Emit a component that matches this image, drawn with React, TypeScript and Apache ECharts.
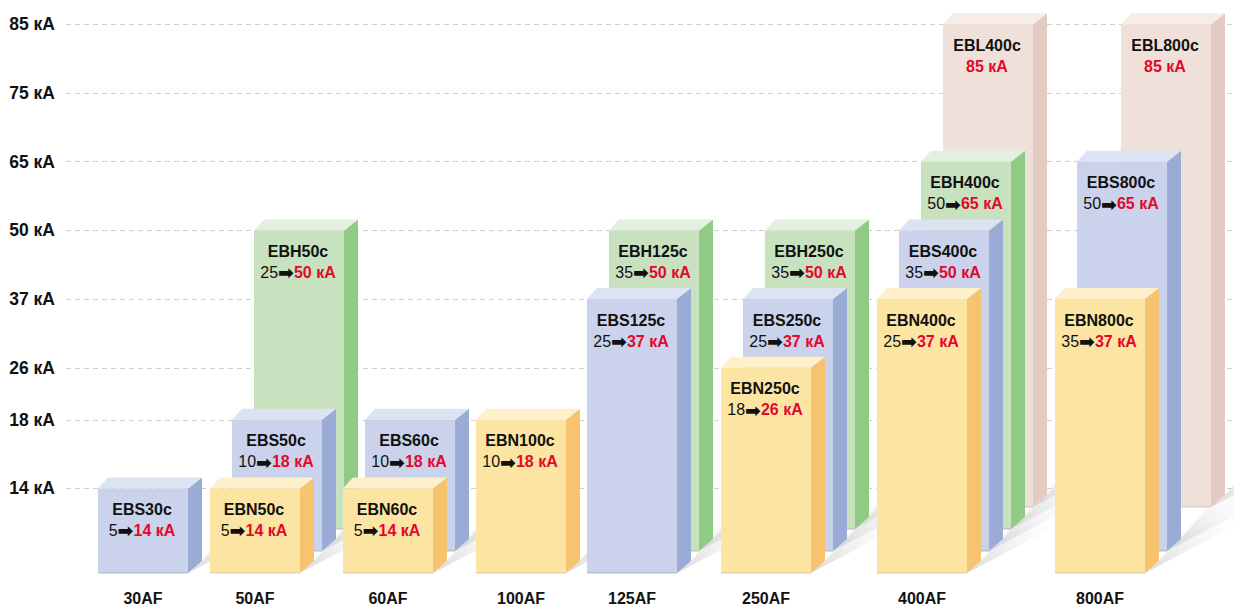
import React, { useEffect, useRef } from 'react';
import * as echarts from 'echarts';

// ---- data ----
const groups = ['30AF', '50AF', '60AF', '100AF', '125AF', '250AF', '400AF', '800AF'];
const groupPos = [77, 189, 322, 455, 566, 700, 856, 1034];

const kaTicks = [14, 18, 26, 37, 50, 65, 75, 85];
const tickLevels = [0, 1, 1.756, 2.756, 3.756, 4.756, 5.756, 6.756];

const barNames = ['EBS30c', 'EBN50c', 'EBS50c', 'EBH50c', 'EBN60c', 'EBS60c', 'EBN100c', 'EBS125c', 'EBH125c', 'EBN250c', 'EBS250c', 'EBH250c', 'EBN400c', 'EBS400c', 'EBH400c', 'EBL400c', 'EBN800c', 'EBS800c', 'EBL800c'];
const barGroup = ['30AF', '50AF', '50AF', '50AF', '60AF', '60AF', '100AF', '125AF', '125AF', '250AF', '250AF', '250AF', '400AF', '400AF', '400AF', '400AF', '800AF', '800AF', '800AF'];
const barDepth = [0, 0, 1, 2, 0, 1, 0, 0, 1, 0, 1, 2, 0, 1, 2, 3, 0, 1, 3];
const barFrom: (number | null)[] = [5, 5, 10, 25, 5, 10, 10, 25, 35, 18, 25, 35, 25, 35, 50, null, 35, 50, null];
const barTo = [14, 14, 18, 50, 14, 18, 18, 37, 50, 26, 37, 50, 37, 50, 65, 85, 37, 65, 85];

const floorLevel = -1.23;

// ---- styles ----
const FONT = '"Liberation Sans", Arial, sans-serif';
const RED = '#e2082c';
const palette: Record<string, { front: string; side: string; top: string; edge: string }> = {
  S: { front: '#cad3eb', side: '#9aabd5', top: '#dce3f3', edge: '#b9c1d6' },
  N: { front: '#fce5a3', side: '#f6c46e', top: '#fdf0cb', edge: '#e6d3a0' },
  H: { front: '#c8e2c0', side: '#8fcb85', top: '#e4f0df', edge: '#b5cdb0' },
  L: { front: '#efe1d9', side: '#e3cbc1', top: '#f6ede8', edge: '#dccfc8' },
};
const BAR_W = 90;
const DEPTH = 22;
const SIDE = 14;
const TOP_DY = 11;
const BOT_DY = 12;
const TOP_L = 10;

const levelOf = (ka: number) => tickLevels[kaTicks.indexOf(ka)];

const order = barNames
  .map((_, i) => i)
  .sort((a, b) => (barDepth[b] - barDepth[a]) || (groups.indexOf(barGroup[a]) - groups.indexOf(barGroup[b])));

const barData = order.map((i) => [groupPos[groups.indexOf(barGroup[i])], levelOf(barTo[i]), barDepth[i], i]);

function geom(api: any) {
  const xv = api.value(0);
  const lv = api.value(1);
  const d = api.value(2);
  const top = api.coord([xv, lv]);
  const base = api.coord([xv, floorLevel]);
  const w = api.size([BAR_W, 0])[0];
  const sh = d * DEPTH;
  const x0 = top[0] - w / 2 + sh;
  const x1 = x0 + w;
  const yT = top[1];
  const yB = base[1] - sh;
  return { x0, x1, yT, yB, w };
}

export default function App() {
  const ref = useRef<HTMLDivElement>(null);
  useEffect(() => {
    document.body.style.margin = '0';
    if (!ref.current) return;
    const chart = echarts.init(ref.current, undefined, { renderer: 'svg' });
    const option: any = {
      animation: false,
      textStyle: { fontFamily: FONT },
      grid: { left: 66, right: 0, top: 0, bottom: 16 },
      xAxis: {
        type: 'value',
        min: 0,
        max: 1168,
        axisLine: { show: false },
        axisTick: { show: false, customValues: groupPos },
        splitLine: { show: false },
        axisLabel: {
          customValues: groupPos,
          formatter: (v: number) => groups[groupPos.indexOf(v)] ?? '',
          fontSize: 16,
          fontWeight: 'bold',
          color: '#111',
          margin: 1,
          fontFamily: FONT,
        },
      },
      yAxis: {
        type: 'value',
        min: -1.463,
        max: 7.109,
        axisLine: { show: false },
        axisTick: { show: false, customValues: tickLevels },
        axisLabel: {
          customValues: tickLevels,
          formatter: (v: number) => {
            const k = tickLevels.findIndex((t) => Math.abs(t - v) < 1e-6);
            return k >= 0 ? `${kaTicks[k]} кА` : '';
          },
          fontSize: 17.5,
          fontWeight: 'bold',
          color: '#111',
          margin: 11,
          fontFamily: FONT,
        },
        splitLine: { show: true, lineStyle: { color: '#cfcfcf', type: [5, 4], width: 1 } },
      },
      series: [
        {
          type: 'custom',
          z: 1,
          silent: true,
          data: barData,
          renderItem: (_p: any, api: any) => {
            const { x1, yB } = geom(api);
            return {
              type: 'polygon',
              shape: {
                points: [
                  [x1, yB],
                  [x1 + SIDE, yB - BOT_DY],
                  [x1 + SIDE + 50, yB - 70],
                  [x1 + 95, yB - 50],
                ],
              },
              style: {
                fill: new echarts.graphic.LinearGradient(0, 1, 1, 0, [
                  { offset: 0, color: 'rgba(170,170,170,0.45)' },
                  { offset: 1, color: 'rgba(255,255,255,0)' },
                ]),
              },
            };
          },
        },
        {
          type: 'custom',
          z: 2,
          data: barData,
          renderItem: (_p: any, api: any) => {
            const i = api.value(3);
            const { x0, x1, yT, yB, w } = geom(api);
            const c = palette[barNames[i][2]];
            const cx = x0 + w / 2 - 1;
            const from = barFrom[i];
            const valText = from == null ? `{c|${barTo[i]} кА}` : `{a|${from}}{b|➡}{c|${barTo[i]} кА}`;
            return {
              type: 'group',
              children: [
                {
                  type: 'polygon',
                  shape: { points: [[x1, yT], [x1 + SIDE, yT - TOP_DY], [x1 + SIDE, yB - BOT_DY], [x1, yB]] },
                  style: { fill: c.side },
                },
                {
                  type: 'polygon',
                  shape: { points: [[x0, yT], [x1, yT], [x1 + SIDE, yT - TOP_DY], [x0 + TOP_L, yT - TOP_DY]] },
                  style: { fill: c.top },
                },
                {
                  type: 'rect',
                  shape: { x: x0, y: yT, width: w, height: yB - yT },
                  style: { fill: c.front },
                },
                {
                  type: 'rect',
                  shape: { x: x0, y: yB - 1, width: w, height: 1.5 },
                  style: { fill: c.edge },
                },
                {
                  type: 'text',
                  x: cx,
                  y: yT + 21,
                  style: {
                    text: barNames[i],
                    align: 'center',
                    verticalAlign: 'middle',
                    fontSize: 16,
                    fontWeight: 'bold',
                    fill: '#111',
                    fontFamily: FONT,
                  },
                },
                {
                  type: 'text',
                  x: cx,
                  y: yT + 42,
                  style: {
                    text: valText,
                    align: 'center',
                    verticalAlign: 'middle',
                    rich: {
                      a: { fontSize: 16, fontWeight: 'normal', fill: '#111', fontFamily: FONT },
                      b: { fontSize: 19, fontWeight: 'bold', fill: '#111', fontFamily: '"DejaVu Sans", sans-serif' },
                      c: { fontSize: 16, fontWeight: 'bold', fill: RED, fontFamily: FONT },
                    },
                  },
                },
              ],
            };
          },
        },
      ],
    };
    chart.setOption(option);
    return () => chart.dispose();
  }, []);
  return <div ref={ref} style={{ width: 1234, height: 606 }} />;
}
